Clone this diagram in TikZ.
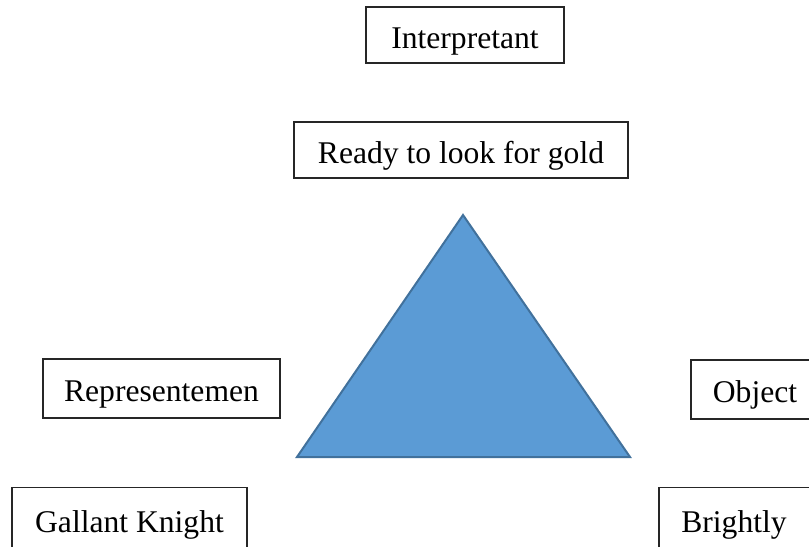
\documentclass[tikz,border=0pt]{standalone}
\usepackage{fontspec}
\setmainfont{Liberation Serif}
\definecolor{triblue}{HTML}{5B9BD5}
\definecolor{triedge}{HTML}{41719C}
\tikzset{
  box/.style={draw=black!85,line width=0.8pt,fill=white,inner sep=0pt,
    text height=19.5pt,text depth=0pt,
    font=\fontsize{23.7}{28}\selectfont},
  tri/.style={fill=triblue,draw=triedge,line width=1.5pt,line join=miter}
}

\begin{document}
\begin{tikzpicture}[x=0.75pt,y=-0.75pt]
        \useasboundingbox (0,0) rectangle (809,546);
        \clip (0,0) rectangle (809,546);

        % triangle
        \coordinate (T) at (463,215);
        \coordinate (TL) at (297,457);
        \coordinate (TR) at (630,457);
        \draw[tri] (T)--(TR)--(TL)--cycle;

        % top
        \node[box,minimum width=148.5pt,minimum height=42pt] (interp) at (465,35) {Interpretant};
        \node[box,minimum width=250.5pt,minimum height=42pt] (gold) at (461,150) {Ready to look for gold};

        % left
        \node[box,minimum width=177.75pt,minimum height=44.25pt] (repr) at (161.5,388.5) {Representemen};
        \node[box,minimum width=176.25pt,minimum height=47.25pt] (knight) at (129.5,519) {Gallant Knight};

        % right (cut off by the page edge)
        \node[box,minimum width=112.5pt,minimum height=44.25pt] (obj) at (766,389.5) {Object\kern16.5pt};
        \node[box,minimum width=127.5pt,minimum height=47.25pt] (bright) at (744,519) {Brightly\kern15pt};
\end{tikzpicture}
\end{document}
